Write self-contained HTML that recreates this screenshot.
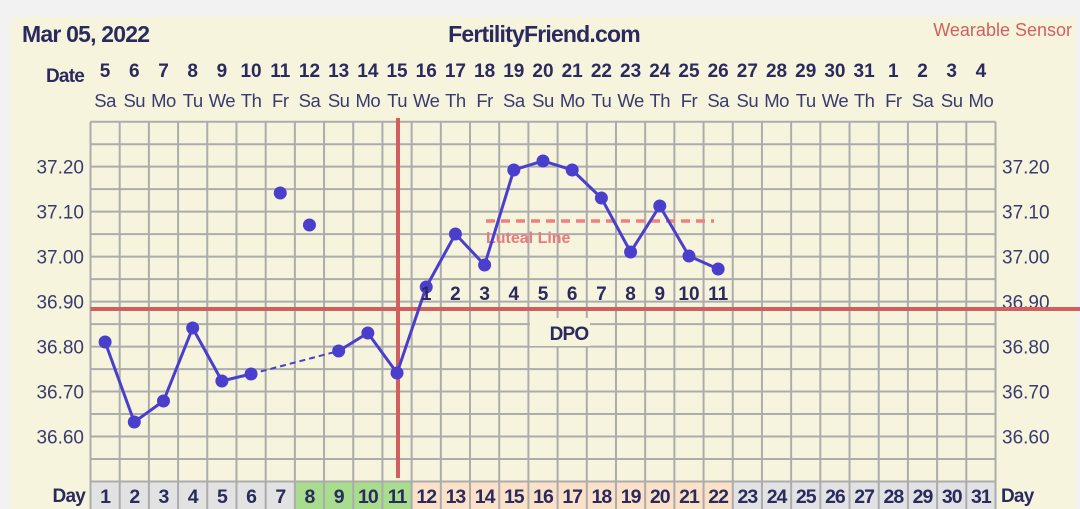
<!DOCTYPE html>
<html><head><meta charset="utf-8"><style>
html,body{margin:0;padding:0;background:#f2f2f2;width:1080px;height:509px;overflow:hidden}
svg{display:block}
text{font-family:"Liberation Sans",sans-serif}
</style></head><body>
<svg width="1080" height="509" xmlns="http://www.w3.org/2000/svg">
<rect x="0" y="0" width="1080" height="509" fill="#f2f2f2"/>
<rect x="10" y="17" width="1066" height="492" fill="#f7f4de"/>
<text x="22" y="42" font-size="23" font-weight="bold" fill="#2a2a5e" letter-spacing="-0.8">Mar 05, 2022</text>
<text x="544" y="42" font-size="23" font-weight="bold" fill="#2a2a5e" text-anchor="middle" letter-spacing="-0.8">FertilityFriend.com</text>
<text x="1072" y="36" font-size="18" fill="#d06060" text-anchor="end">Wearable Sensor</text>
<text x="84" y="82" font-size="19" font-weight="bold" fill="#2a2a5e" text-anchor="end" letter-spacing="-0.8">Date</text>
</svg>
<script>
const NS="http://www.w3.org/2000/svg",svg=document.querySelector('svg');
function el(t,a,txt){const e=document.createElementNS(NS,t);for(const k in a)e.setAttribute(k,a[k]);if(txt!==undefined)e.textContent=txt;svg.appendChild(e);return e;}
const L=90.5,R=995.5,W=(R-L)/31,T=121.7,B=481.5;
const cx=d=>L+W*(d-0.5);
const dates=[5,6,7,8,9,10,11,12,13,14,15,16,17,18,19,20,21,22,23,24,25,26,27,28,29,30,31,1,2,3,4];
const dows=["Sa","Su","Mo","Tu","We","Th","Fr"];
for(let i=0;i<31;i++){
 el('text',{x:cx(i+1),y:77,'font-size':19,'font-weight':'bold',fill:'#2a2a5e','text-anchor':'middle','font-family':'Liberation Serif, serif'},dates[i]);
 el('text',{x:cx(i+1),y:107,'font-size':18.5,fill:'#3a3a6e','text-anchor':'middle','letter-spacing':'-0.5'},dows[i%7]);
}
for(let d=1;d<=31;d++){
 let c=d<=7?'#e2e2e2':d<=11?'#a9dd8e':d<=22?'#fbe1c8':'#e2e2e5';
 el('rect',{x:L+W*(d-1),y:B,width:W,height:28,fill:c});
 el('text',{x:cx(d),y:503,'font-size':19.5,'font-weight':'bold',fill:'#2a2a5e','text-anchor':'middle','letter-spacing':'-1'},d);
}
el('text',{x:85,y:502,'font-size':19,'font-weight':'bold',fill:'#2a2a5e','text-anchor':'end','letter-spacing':'-0.8'},'Day');
el('text',{x:1001,y:502,'font-size':19,'font-weight':'bold',fill:'#2a2a5e','letter-spacing':'-0.8'},'Day');
const GH=(B-T)/16;
for(let i=0;i<=16;i++)el('line',{x1:L,x2:R,y1:T+GH*i,y2:T+GH*i,stroke:'#acacac','stroke-width':2});
for(let i=0;i<=31;i++)el('line',{x1:L+W*i,x2:L+W*i,y1:T,y2:509,stroke:'#acacac','stroke-width':2});
const Y=v=>166.7-(v-37.2)*450;
[37.2,37.1,37.0,36.9,36.8,36.7,36.6].forEach(v=>{
 el('text',{x:84,y:Y(v)+7,'font-size':19,fill:'#3a3a6e','text-anchor':'end'},v.toFixed(2));
 el('text',{x:1002,y:Y(v)+7,'font-size':19,fill:'#3a3a6e'},v.toFixed(2));
});
el('line',{x1:L,x2:1080,y1:309,y2:309,stroke:'#d06060','stroke-width':4});
el('line',{x1:398,x2:398,y1:118,y2:478,stroke:'#d06060','stroke-width':4});
el('line',{x1:486,x2:714,y1:221,y2:221,stroke:'#ee8080','stroke-width':3.5,'stroke-dasharray':'9,6'});
el('text',{x:486,y:243,'font-size':16,'font-weight':'bold',fill:'#ec7a7a','font-family':'Liberation Serif, serif'},'Luteal Line');
el('rect',{x:530,y:318,width:60,height:28,fill:'#f7f4de'});
el('text',{x:569,y:340,'font-size':19,'font-weight':'bold',fill:'#2a2a5e','text-anchor':'middle','letter-spacing':'-0.8'},'DPO');
const ys={1:342,2:422,3:401,4:328,5:381,6:374,7:193,8:225,9:351,10:333,11:373,12:287,13:234,14:265,15:170,16:161,17:170,18:198,19:252,20:206,21:256,22:269};
let p1=[1,2,3,4,5,6].map(d=>cx(d)+','+ys[d]).join(' ');
let p2=[9,10,11,12,13,14,15,16,17,18,19,20,21,22].map(d=>cx(d)+','+ys[d]).join(' ');
el('polyline',{points:p1,fill:'none',stroke:'#4a3fcc','stroke-width':3});
el('polyline',{points:p2,fill:'none',stroke:'#4a3fcc','stroke-width':3});
el('line',{x1:cx(6),y1:ys[6],x2:cx(9),y2:ys[9],stroke:'#4a3fcc','stroke-width':2,'stroke-dasharray':'6,4'});
for(const d in ys)el('circle',{cx:cx(+d),cy:ys[d],r:6.5,fill:'#4a3fcc'});
for(let i=1;i<=11;i++)el('text',{x:cx(i+11),y:300,'font-size':19,'font-weight':'bold',fill:'#2a2a5e','text-anchor':'middle','font-family':'Liberation Serif, serif'},i);
</script>
</body></html>
